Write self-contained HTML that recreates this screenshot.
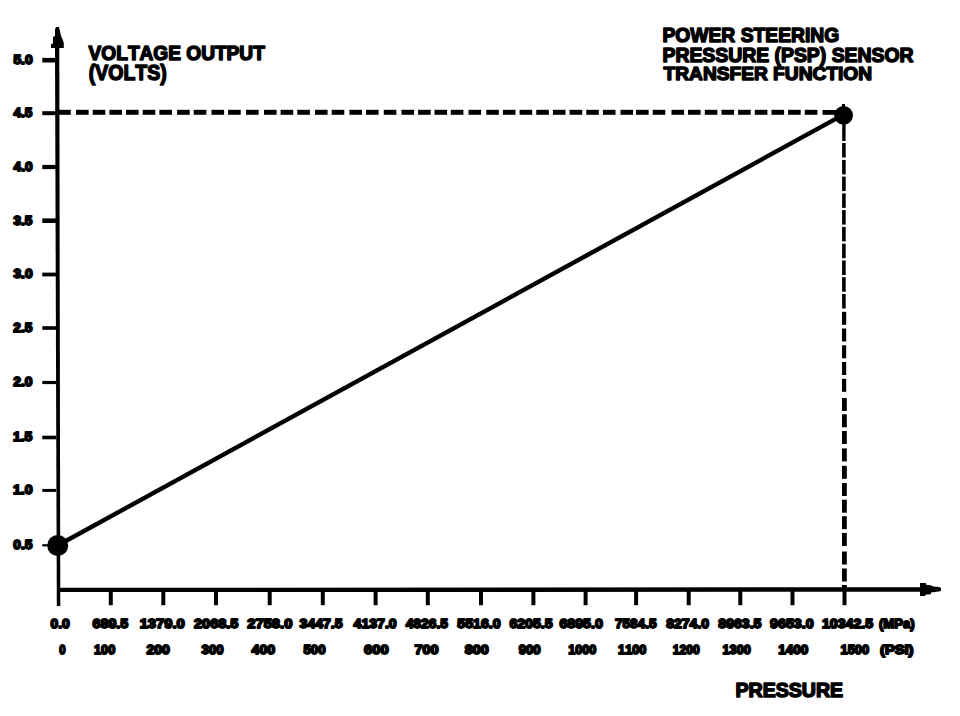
<!DOCTYPE html>
<html><head><meta charset="utf-8"><style>
html,body{margin:0;padding:0;background:#fff;width:960px;height:716px;overflow:hidden}
svg{display:block}
.t text{font-family:"Liberation Sans",Arial,sans-serif;font-weight:bold;font-kerning:none;stroke:#000;stroke-linejoin:round}
</style></head><body>
<svg width="960" height="716" viewBox="0 0 960 716" fill="#000">
<rect width="960" height="716" fill="#fff"/>
<polygon points="55,47 59.3,47 60.3,606 56.8,606" />
<polygon points="56,27 58.9,27 60.2,32 61,36 62.5,39 63.8,43 63.8,48 51,48 51,44 53,43.5 53,37 55,36 55,29.5" />
<polygon points="57.5,587.8 920,587.2 920,591.8 57.5,592" />
<polygon points="920,583 926,583 926,584.8 931,585.3 933,586.5 939,587 941,588 941,590.8 939,591.5 931,592.5 931,594.2 926,594.5 925,596 920,596" />
<rect x="42.3" y="57.9" width="14" height="4.6" />
<rect x="42.3" y="111.2" width="14" height="4.0" />
<rect x="42.3" y="164.9" width="14" height="4.2" />
<rect x="42.3" y="218.4" width="14" height="4.6" />
<rect x="42.3" y="272.6" width="14" height="3.8" />
<rect x="42.3" y="326.2" width="14" height="3.6" />
<rect x="42.3" y="380.9" width="14" height="3.2" />
<rect x="42.3" y="435.7" width="14" height="3.6" />
<rect x="42.3" y="488.9" width="14" height="3.0" />
<rect x="42.3" y="544.2" width="14" height="2.2" />
<rect x="108.8" y="590" width="4" height="15.2" />
<rect x="161.3" y="590" width="4" height="15.2" />
<rect x="214.0" y="590" width="4" height="15.2" />
<rect x="267.7" y="590" width="4" height="15.2" />
<rect x="320.8" y="590" width="4" height="15.2" />
<rect x="373.6" y="590" width="4" height="15.2" />
<rect x="425.8" y="590" width="4" height="15.2" />
<rect x="479.0" y="590" width="4" height="15.2" />
<rect x="531.4" y="590" width="4" height="15.2" />
<rect x="583.6" y="590" width="4" height="15.2" />
<rect x="634.1" y="590" width="4" height="15.2" />
<rect x="686.7" y="590" width="4" height="15.2" />
<rect x="738.3" y="590" width="4" height="15.2" />
<rect x="790.5" y="590" width="4" height="15.2" />
<rect x="842.5" y="590" width="4" height="15.2" />
<rect x="58" y="109.8" width="12.8" height="5" />
<rect x="76" y="109.8" width="12.6" height="5" />
<rect x="92.7" y="109.8" width="12.6" height="5" />
<rect x="109.4" y="109.8" width="12.6" height="5" />
<rect x="126" y="109.8" width="12.6" height="5" />
<rect x="142.7" y="109.8" width="12.6" height="5" />
<rect x="159.4" y="109.8" width="12.6" height="5" />
<rect x="177.1" y="109.8" width="12.6" height="5" />
<rect x="193.75" y="109.8" width="12.6" height="5" />
<rect x="211.5" y="109.8" width="12.6" height="5" />
<rect x="228.1" y="109.8" width="12.6" height="5" />
<rect x="246" y="109.8" width="12.6" height="5" />
<rect x="264" y="109.8" width="12.6" height="5" />
<rect x="280.6" y="109.8" width="12.6" height="5" />
<rect x="297.3" y="109.8" width="12.6" height="5" />
<rect x="315" y="109.8" width="12.6" height="5" />
<rect x="331.7" y="109.8" width="12.6" height="5" />
<rect x="349.4" y="109.8" width="12.6" height="5" />
<rect x="366" y="109.8" width="12.6" height="5" />
<rect x="383.75" y="109.8" width="12.6" height="5" />
<rect x="401.5" y="109.8" width="12.6" height="5" />
<rect x="418.1" y="109.8" width="12.6" height="5" />
<rect x="434.5" y="109.8" width="12.6" height="5" />
<rect x="450.8" y="109.8" width="12.6" height="5" />
<rect x="468.5" y="109.8" width="12.6" height="5" />
<rect x="486.25" y="109.8" width="12.6" height="5" />
<rect x="502.9" y="109.8" width="12.6" height="5" />
<rect x="519.6" y="109.8" width="12.6" height="5" />
<rect x="536.25" y="109.8" width="12.6" height="5" />
<rect x="552.9" y="109.8" width="12.6" height="5" />
<rect x="569.6" y="109.8" width="12.6" height="5" />
<rect x="586.25" y="109.8" width="12.6" height="5" />
<rect x="602.9" y="109.8" width="12.6" height="5" />
<rect x="620.5" y="109.8" width="12.6" height="5" />
<rect x="636" y="109.8" width="12.6" height="5" />
<rect x="652.7" y="109.8" width="12.6" height="5" />
<rect x="671.5" y="109.8" width="12.6" height="5" />
<rect x="688" y="109.8" width="12.6" height="5" />
<rect x="704.8" y="109.8" width="12.6" height="5" />
<rect x="721.5" y="109.8" width="12.6" height="5" />
<rect x="738.1" y="109.8" width="12.6" height="5" />
<rect x="754.8" y="109.8" width="12.6" height="5" />
<rect x="771.5" y="109.8" width="12.6" height="5" />
<rect x="788.1" y="109.8" width="12.6" height="5" />
<rect x="804.8" y="109.8" width="12.6" height="5" />
<rect x="822.5" y="110" width="14" height="4.8" />
<rect x="842.2" y="120" width="3.4" height="21" />
<rect x="842.1" y="143" width="3.6" height="14.5" />
<rect x="842.1" y="159.9" width="3.6" height="14.5" />
<rect x="842.1" y="176.6" width="3.6" height="14.5" />
<rect x="842.1" y="193.4" width="3.6" height="14.5" />
<rect x="842.1" y="210.1" width="3.6" height="14.5" />
<rect x="842.1" y="226.9" width="3.6" height="14.5" />
<rect x="842.1" y="243.7" width="3.6" height="14.5" />
<rect x="842.1" y="260.5" width="3.6" height="14.5" />
<rect x="842.1" y="277.2" width="3.6" height="14.5" />
<rect x="842.1" y="294" width="3.6" height="14.5" />
<rect x="842" y="311.8" width="4.2" height="13" />
<rect x="842" y="328.5" width="4.2" height="13" />
<rect x="842" y="345.3" width="4.2" height="13" />
<rect x="842" y="362" width="4.2" height="13" />
<rect x="842" y="378.8" width="4.2" height="13" />
<rect x="842" y="398" width="4.8" height="13" />
<rect x="842" y="414.3" width="4.8" height="13" />
<rect x="842" y="431" width="4.8" height="13" />
<rect x="842" y="448.4" width="4.8" height="13" />
<rect x="842" y="465.8" width="4.8" height="13" />
<rect x="842" y="483" width="4.8" height="13" />
<rect x="842" y="499.7" width="4.8" height="13" />
<rect x="842" y="516.2" width="4.8" height="13" />
<rect x="842" y="533" width="4.8" height="13" />
<rect x="842" y="551.5" width="4.8" height="13" />
<rect x="842" y="568.5" width="4.8" height="13" />
<rect x="842" y="585" width="4.8" height="5" />
<line x1="58" y1="545.3" x2="843.5" y2="114.6" stroke="#000" stroke-width="4.4" />
<circle cx="57.7" cy="545.5" r="10.5" />
<circle cx="843.6" cy="115.3" r="9.4" />
<rect x="842" y="104" width="3" height="4" />
<g class="t">
<text transform="translate(88.62,60.15) scale(0.9667,1)" font-size="19.77" stroke-width="1.5">VOLTAGE OUTPUT</text>
<text transform="translate(88.78,79.95) scale(0.9109,1)" font-size="21.37" stroke-width="1.5">(VOLTS)</text>
<text transform="translate(662.46,42.05) scale(0.9482,1)" font-size="20.35" stroke-width="1.5">POWER STEERING</text>
<text transform="translate(662.45,61.75) scale(0.9534,1)" font-size="20.35" stroke-width="1.5">PRESSURE (PSP) SENSOR</text>
<text transform="translate(663.53,80.45) scale(1.0144,1)" font-size="18.90" stroke-width="1.5">TRANSFER FUNCTION</text>
<text transform="translate(735.44,696.95) scale(1.0058,1)" font-size="19.48" stroke-width="1.5">PRESSURE</text>
<text transform="translate(13.38,64.10) scale(1.0553,1)" font-size="13.08" stroke-width="1.8">5.0</text>
<text transform="translate(13.60,117.10) scale(1.0327,1)" font-size="13.08" stroke-width="1.8">4.5</text>
<text transform="translate(13.59,170.90) scale(1.0429,1)" font-size="13.08" stroke-width="1.8">4.0</text>
<text transform="translate(13.49,224.60) scale(1.0388,1)" font-size="13.08" stroke-width="1.8">3.5</text>
<text transform="translate(13.49,278.40) scale(1.0491,1)" font-size="13.08" stroke-width="1.8">3.0</text>
<text transform="translate(13.32,331.90) scale(1.0479,1)" font-size="13.08" stroke-width="1.8">2.5</text>
<text transform="translate(13.32,386.40) scale(1.0584,1)" font-size="13.08" stroke-width="1.8">2.0</text>
<text transform="translate(12.92,441.40) scale(1.0708,1)" font-size="13.08" stroke-width="1.8">1.5</text>
<text transform="translate(12.91,494.30) scale(1.0817,1)" font-size="13.08" stroke-width="1.8">1.0</text>
<text transform="translate(13.26,549.20) scale(1.0518,1)" font-size="13.08" stroke-width="1.8">0.5</text>
<text transform="translate(50.45,627.60) scale(1.0225,1)" font-size="13.52" stroke-width="1.8">0.0</text>
<text transform="translate(92.48,627.60) scale(1.0590,1)" font-size="13.52" stroke-width="1.8">689.5</text>
<text transform="translate(139.67,627.60) scale(1.0892,1)" font-size="13.52" stroke-width="1.8">1379.0</text>
<text transform="translate(194.00,627.60) scale(1.0741,1)" font-size="13.52" stroke-width="1.8">2068.5</text>
<text transform="translate(247.29,627.60) scale(1.0912,1)" font-size="13.52" stroke-width="1.8">2758.0</text>
<text transform="translate(299.58,627.60) scale(1.0404,1)" font-size="13.52" stroke-width="1.8">3447.5</text>
<text transform="translate(353.59,627.60) scale(1.0422,1)" font-size="13.52" stroke-width="1.8">4137.0</text>
<text transform="translate(405.69,627.60) scale(1.0230,1)" font-size="13.52" stroke-width="1.8">4826.5</text>
<text transform="translate(457.36,627.60) scale(1.0477,1)" font-size="13.52" stroke-width="1.8">5516.0</text>
<text transform="translate(509.38,627.60) scale(1.0451,1)" font-size="13.52" stroke-width="1.8">6205.5</text>
<text transform="translate(559.38,627.60) scale(1.0497,1)" font-size="13.52" stroke-width="1.8">6895.0</text>
<text transform="translate(614.92,627.60) scale(1.0052,1)" font-size="13.52" stroke-width="1.8">7584.5</text>
<text transform="translate(666.16,627.60) scale(1.0356,1)" font-size="13.52" stroke-width="1.8">8274.0</text>
<text transform="translate(718.35,627.60) scale(1.0434,1)" font-size="13.52" stroke-width="1.8">8963.5</text>
<text transform="translate(770.11,627.60) scale(1.0515,1)" font-size="13.52" stroke-width="1.8">9653.0</text>
<text transform="translate(822.01,627.60) scale(1.0454,1)" font-size="13.52" stroke-width="1.8">10342.5</text>
<text transform="translate(879.00,627.60) scale(0.9661,1)" font-size="13.52" stroke-width="1.8">(MPa)</text>
<text transform="translate(59.35,653.80) scale(0.8584,1)" font-size="13.23" stroke-width="1.8">0</text>
<text transform="translate(94.00,653.80) scale(0.9617,1)" font-size="13.23" stroke-width="1.8">100</text>
<text transform="translate(146.41,653.80) scale(1.0585,1)" font-size="13.23" stroke-width="1.8">200</text>
<text transform="translate(201.60,653.80) scale(0.9989,1)" font-size="13.23" stroke-width="1.8">300</text>
<text transform="translate(251.59,653.80) scale(1.0691,1)" font-size="13.23" stroke-width="1.8">400</text>
<text transform="translate(303.49,653.80) scale(1.0038,1)" font-size="13.23" stroke-width="1.8">500</text>
<text transform="translate(364.11,653.80) scale(1.1145,1)" font-size="13.23" stroke-width="1.8">600</text>
<text transform="translate(414.48,653.80) scale(1.0879,1)" font-size="13.23" stroke-width="1.8">700</text>
<text transform="translate(464.74,653.80) scale(1.0850,1)" font-size="13.23" stroke-width="1.8">800</text>
<text transform="translate(518.64,653.80) scale(1.0015,1)" font-size="13.23" stroke-width="1.8">900</text>
<text transform="translate(568.30,653.80) scale(0.9555,1)" font-size="13.23" stroke-width="1.8">1000</text>
<text transform="translate(618.10,653.80) scale(0.9590,1)" font-size="13.23" stroke-width="1.8">1100</text>
<text transform="translate(672.74,653.80) scale(0.9162,1)" font-size="13.23" stroke-width="1.8">1200</text>
<text transform="translate(722.60,653.80) scale(0.9555,1)" font-size="13.23" stroke-width="1.8">1300</text>
<text transform="translate(778.35,653.80) scale(1.0196,1)" font-size="13.23" stroke-width="1.8">1400</text>
<text transform="translate(840.49,653.80) scale(0.9769,1)" font-size="13.23" stroke-width="1.8">1500</text>
<text transform="translate(880.07,653.80) scale(1.1107,1)" font-size="13.23" stroke-width="1.8">(PSI)</text>
</g>
</svg>
</body></html>
